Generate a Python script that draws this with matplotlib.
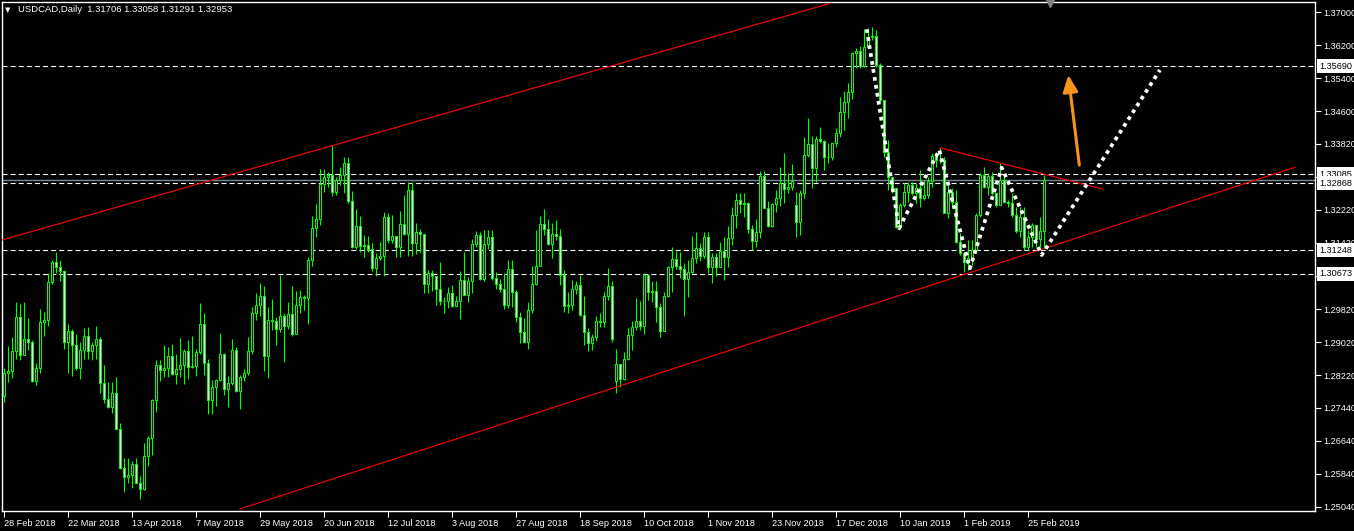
import matplotlib
matplotlib.use("Agg")
import matplotlib.pyplot as plt
import pandas as pd

plt.rcParams['font.family'] = ['Liberation Sans', 'DejaVu Sans']
FS = 6.6

# daily bars shown on the chart (MT4 skips 25 Dec and 1 Jan)
dates = pd.bdate_range("2018-02-28", "2019-03-01")
dates = dates[~dates.isin(pd.to_datetime(["2018-12-25", "2019-01-01"]))]

closes = [
    1.2827, 1.2833, 1.2880, 1.2962, 1.2872, 1.2909, 1.2903, 1.2809, 1.2840, 1.2950,
    1.2956, 1.3047, 1.3095, 1.3085, 1.3075, 1.2902, 1.2929, 1.2895, 1.2841, 1.2883,
    1.2918, 1.2880, 1.2895, 1.2909, 1.2804, 1.2766, 1.2746, 1.2779, 1.2693, 1.2599,
    1.2577, 1.2581, 1.2607, 1.2563, 1.2548, 1.2626, 1.2670, 1.2763, 1.2846, 1.2835,
    1.2839, 1.2869, 1.2826, 1.2838, 1.2846, 1.2881, 1.2843, 1.2844, 1.2878, 1.2945,
    1.2851, 1.2763, 1.2793, 1.2811, 1.2873, 1.2788, 1.2803, 1.2883, 1.2785, 1.2819,
    1.2827, 1.2881, 1.2972, 1.2991, 1.3013, 1.2870, 1.2955, 1.2953, 1.2933, 1.2965,
    1.2941, 1.2970, 1.2923, 1.2991, 1.3011, 1.3008, 1.3102, 1.3177, 1.3199, 1.3284,
    1.3302, 1.3307, 1.3266, 1.3294, 1.3305, 1.3334, 1.3244, 1.3131, 1.3183, 1.3135,
    1.3137, 1.3128, 1.3081, 1.3106, 1.3110, 1.3204, 1.3149, 1.3159, 1.3133, 1.3187,
    1.3164, 1.3270, 1.3143, 1.3169, 1.3164, 1.3044, 1.3069, 1.3062, 1.3031, 1.3002,
    1.3002, 1.3021, 1.2990, 1.3002, 1.3052, 1.3017, 1.3050, 1.3139, 1.3160, 1.3055,
    1.3139, 1.3156, 1.3058, 1.3042, 1.3030, 1.2993, 1.3078, 1.3024, 1.2964, 1.2928,
    1.2903, 1.2979, 1.3043, 1.3087, 1.3188, 1.3175, 1.3139, 1.3163, 1.3159, 1.3065,
    1.2990, 1.2991, 1.3030, 1.3040, 1.2969, 1.2927, 1.2900, 1.2914, 1.2953, 1.2952,
    1.3015, 1.3038, 1.2909, 1.2850, 1.2813, 1.2861, 1.2919, 1.2938, 1.2954, 1.2941,
    1.3065, 1.3024, 1.3027, 1.2987, 1.2930, 1.3014, 1.3083, 1.3103, 1.3086, 1.3079,
    1.3054, 1.3071, 1.3105, 1.3129, 1.3111, 1.3156, 1.3083, 1.3109, 1.3085, 1.3123,
    1.3108, 1.3153, 1.3210, 1.3246, 1.3235, 1.3238, 1.3175, 1.3146, 1.3168, 1.3304,
    1.3227, 1.3184, 1.3235, 1.3250, 1.3288, 1.3272, 1.3278, 1.3292, 1.3193, 1.3263,
    1.3354, 1.3380, 1.3322, 1.3392, 1.3388, 1.3349, 1.3350, 1.3383, 1.3407, 1.3459,
    1.3483, 1.3507, 1.3600, 1.3607, 1.3570, 1.3616, 1.3640, 1.3642, 1.3572, 1.3487,
    1.3362, 1.3302, 1.3274, 1.3181, 1.3234, 1.3266, 1.3282, 1.3263, 1.3274, 1.3250,
    1.3258, 1.3292, 1.3352, 1.3342, 1.3342, 1.3215, 1.3266, 1.3241, 1.3145, 1.3117,
    1.3097, 1.3106, 1.3125, 1.3210, 1.3306, 1.3278, 1.3304, 1.3262, 1.3234, 1.3294,
    1.3241, 1.3238, 1.3210, 1.3172, 1.3205, 1.3133, 1.3157, 1.3185, 1.3152, 1.3171,
    1.32953,
]

highs = [
    1.2839, 1.2893, 1.2914, 1.2999, 1.2994, 1.2999, 1.2960, 1.2907, 1.2851, 1.2982,
    1.2975, 1.3069, 1.3101, 1.3121, 1.3101, 1.3077, 1.2946, 1.2933, 1.2921, 1.2903,
    1.2936, 1.2938, 1.2902, 1.2941, 1.2914, 1.2847, 1.2807, 1.2805, 1.2819, 1.2708,
    1.2622, 1.2622, 1.2615, 1.2622, 1.2579, 1.2659, 1.2676, 1.2764, 1.2859, 1.2859,
    1.2895, 1.2890, 1.2898, 1.2873, 1.2912, 1.2886, 1.2907, 1.2916, 1.2886, 1.2996,
    1.2972, 1.2862, 1.2811, 1.2813, 1.2924, 1.2877, 1.2820, 1.2909, 1.2890, 1.2823,
    1.2837, 1.2915, 1.2988, 1.3020, 1.3045, 1.3038, 1.2988, 1.3006, 1.2962, 1.3065,
    1.2973, 1.2999, 1.3038, 1.3025, 1.3028, 1.3016, 1.3109, 1.3207, 1.3235, 1.3321,
    1.3321, 1.3313, 1.3379, 1.3302, 1.3326, 1.3350, 1.3350, 1.3267, 1.3225, 1.3207,
    1.3160, 1.3159, 1.3143, 1.3118, 1.3144, 1.3217, 1.3215, 1.3209, 1.3157, 1.3220,
    1.3258, 1.3290, 1.3289, 1.3189, 1.3175, 1.3156, 1.3077, 1.3077, 1.3051, 1.3096,
    1.3011, 1.3036, 1.3040, 1.3014, 1.3075, 1.3119, 1.3060, 1.3151, 1.3172, 1.3168,
    1.3173, 1.3173, 1.3173, 1.3073, 1.3055, 1.3069, 1.3102, 1.3102, 1.3028, 1.2976,
    1.2960, 1.2999, 1.3086, 1.3173, 1.3207, 1.3223, 1.3199, 1.3189, 1.3197, 1.3175,
    1.3077, 1.3023, 1.3052, 1.3049, 1.3065, 1.3014, 1.2936, 1.2922, 1.2965, 1.2972,
    1.3024, 1.3081, 1.3051, 1.2886, 1.2840, 1.2879, 1.2936, 1.2953, 1.3008, 1.3002,
    1.3069, 1.3067, 1.3050, 1.3050, 1.2996, 1.3024, 1.3086, 1.3132, 1.3123, 1.3121,
    1.3094, 1.3101, 1.3159, 1.3169, 1.3143, 1.3169, 1.3169, 1.3117, 1.3117, 1.3144,
    1.3156, 1.3183, 1.3230, 1.3262, 1.3262, 1.3262, 1.3242, 1.3185, 1.3199, 1.3316,
    1.3316, 1.3243, 1.3238, 1.3270, 1.3326, 1.3359, 1.3310, 1.3333, 1.3266, 1.3270,
    1.3399, 1.3443, 1.3400, 1.3400, 1.3423, 1.3391, 1.3383, 1.3384, 1.3419, 1.3494,
    1.3510, 1.3528, 1.3604, 1.3612, 1.3618, 1.3658, 1.3661, 1.3663, 1.3656, 1.3576,
    1.3487, 1.3391, 1.3302, 1.3274, 1.3239, 1.3286, 1.3290, 1.3290, 1.3286, 1.3318,
    1.3294, 1.3302, 1.3359, 1.3362, 1.3371, 1.3350, 1.3286, 1.3274, 1.3270, 1.3165,
    1.3121, 1.3149, 1.3149, 1.3214, 1.3310, 1.3326, 1.3310, 1.3314, 1.3262, 1.3334,
    1.3306, 1.3246, 1.3262, 1.3230, 1.3230, 1.3230, 1.3173, 1.3189, 1.3173, 1.3205,
    1.33058,
]

lows = [
    1.2758, 1.2807, 1.2816, 1.2862, 1.2859, 1.2871, 1.2883, 1.2807, 1.2799, 1.2827,
    1.2917, 1.2941, 1.3043, 1.3069, 1.3051, 1.2886, 1.2827, 1.2821, 1.2835, 1.2813,
    1.2862, 1.2862, 1.2858, 1.2861, 1.2779, 1.2756, 1.2742, 1.2730, 1.2693, 1.2595,
    1.2541, 1.2561, 1.2549, 1.2561, 1.2524, 1.2545, 1.2604, 1.2630, 1.2734, 1.2809,
    1.2817, 1.2819, 1.2823, 1.2802, 1.2818, 1.2802, 1.2814, 1.2839, 1.2820, 1.2874,
    1.2823, 1.2728, 1.2728, 1.2749, 1.2808, 1.2775, 1.2746, 1.2799, 1.2783, 1.2740,
    1.2809, 1.2823, 1.2874, 1.2956, 1.2965, 1.2833, 1.2816, 1.2931, 1.2896, 1.2928,
    1.2855, 1.2933, 1.2918, 1.2973, 1.2972, 1.2980, 1.2947, 1.3086, 1.3157, 1.3185,
    1.3266, 1.3278, 1.3256, 1.3258, 1.3282, 1.3262, 1.3239, 1.3129, 1.3128, 1.3121,
    1.3109, 1.3120, 1.3075, 1.3063, 1.3101, 1.3063, 1.3143, 1.3143, 1.3107, 1.3107,
    1.3160, 1.3111, 1.3110, 1.3115, 1.3121, 1.3021, 1.3021, 1.3026, 1.2992, 1.2992,
    1.2973, 1.2984, 1.2988, 1.2988, 1.2959, 1.3017, 1.2999, 1.3020, 1.3133, 1.3053,
    1.3051, 1.3128, 1.3052, 1.3031, 1.3023, 1.2983, 1.2986, 1.2988, 1.2951, 1.2900,
    1.2901, 1.2885, 1.2973, 1.3040, 1.3086, 1.3160, 1.3137, 1.3106, 1.3149, 1.3040,
    1.2976, 1.2973, 1.2980, 1.3019, 1.2966, 1.2895, 1.2882, 1.2883, 1.2906, 1.2940,
    1.2940, 1.3004, 1.2903, 1.2780, 1.2795, 1.2811, 1.2859, 1.2883, 1.2932, 1.2932,
    1.2922, 1.3004, 1.3000, 1.2952, 1.2914, 1.2930, 1.3012, 1.3024, 1.3078, 1.3057,
    1.2965, 1.3012, 1.3069, 1.3094, 1.3099, 1.3105, 1.3069, 1.3046, 1.3062, 1.3089,
    1.3052, 1.3085, 1.3137, 1.3177, 1.3214, 1.3205, 1.3165, 1.3125, 1.3133, 1.3153,
    1.3226, 1.3181, 1.3181, 1.3217, 1.3231, 1.3239, 1.3262, 1.3270, 1.3157, 1.3161,
    1.3250, 1.3350, 1.3274, 1.3290, 1.3384, 1.3318, 1.3336, 1.3342, 1.3375, 1.3399,
    1.3415, 1.3443, 1.3489, 1.3564, 1.3564, 1.3568, 1.3632, 1.3632, 1.3568, 1.3479,
    1.3350, 1.3270, 1.3262, 1.3177, 1.3197, 1.3230, 1.3242, 1.3258, 1.3238, 1.3230,
    1.3246, 1.3250, 1.3278, 1.3326, 1.3334, 1.3214, 1.3202, 1.3230, 1.3141, 1.3113,
    1.3071, 1.3077, 1.3089, 1.3117, 1.3205, 1.3274, 1.3258, 1.3258, 1.3230, 1.3246,
    1.3238, 1.3230, 1.3205, 1.3165, 1.3157, 1.3125, 1.3125, 1.3133, 1.3133, 1.3133,
    1.31291,
]

# opens follow the previous close, except the first bar and the weekend gaps
first_open = 1.2773
gap_opens = {153: 1.2809, 198: 1.3234, 260: 1.31706}

level_lines = [1.35690, 1.33085, 1.32868, 1.31248, 1.30673]
bid = 1.32953
price_ticks = [1.37000, 1.36200, 1.35400, 1.34600, 1.33820, 1.33020, 1.32220, 1.31420,
               1.30620, 1.29820, 1.29020, 1.28220, 1.27440, 1.26640, 1.25840, 1.25040]
hidden_ticks = [1.33020, 1.30620]  # covered by the level labels

# drawings (bar index, price)
upper_channel = ([-0.6, 206.8], [1.31485, 1.37212])
lower_channel = ([59.1, 322.9], [1.24992, 1.33248])
triangle_top = ([234.1, 274.8], [1.33721, 1.32723])
zigzag_x = [215.8, 223.9, 233.95, 241.6, 249.55, 259.55, 289.1]
zigzag_y = [1.36583, 1.31774, 1.33666, 1.30807, 1.33238, 1.31129, 1.35599]
arrow_from = (268.95, 1.33303)
arrow_to = (266.2, 1.35478)

opens = [first_open] + closes[:-1]
for k, v in gap_opens.items():
    opens[k] = v

fig = plt.figure(figsize=(13.54, 5.31), dpi=100, facecolor="black")
ax = fig.add_axes([2 / 1354, 20 / 531, 1313 / 1354, 509 / 531], facecolor="black")

lime = "#00FF00"
x = list(range(len(closes)))
ax.vlines(x, lows, highs, color=lime, lw=0.8, zorder=3)
bottoms = [min(o, c) for o, c in zip(opens, closes)]
heights = [max(abs(c - o), 0.00004) for o, c in zip(opens, closes)]
fills = ["black" if c >= o else "white" for o, c in zip(opens, closes)]
ax.bar(x, heights, bottom=bottoms, width=0.5, color=fills, edgecolor=lime,
       linewidth=0.75, zorder=4)

for lv in level_lines:
    ax.axhline(lv, color="white", lw=0.8, dashes=(4.5, 2.8), zorder=2)
    ax.text(1.0032, lv, "%.5f" % lv, transform=ax.get_yaxis_transform(),
            ha="left", va="center", fontsize=FS, color="black", zorder=10,
            clip_on=False, bbox=dict(boxstyle="square,pad=0.25", fc="white", ec="none"))
ax.axhline(bid, color="#778899", lw=1.0, zorder=2)

ax.plot(*upper_channel, color="red", lw=0.8, zorder=5)
ax.plot(*lower_channel, color="red", lw=0.8, zorder=5)
ax.plot(*triangle_top, color="red", lw=0.8, zorder=5)
ax.plot(zigzag_x, zigzag_y, color="white", lw=2.7, linestyle=(0, (1, 1.15)),
        dash_capstyle="butt", zorder=6)
ax.annotate("", xy=arrow_to, xytext=arrow_from,
            arrowprops=dict(arrowstyle="-|>,head_length=1.0,head_width=0.45",
                            color="#F7941D", lw=2.2, shrinkA=0, shrinkB=0), zorder=7)

ax.set_xlim(-0.375, 327.875)
ax.set_ylim(1.24943, 1.37242)

ax.yaxis.tick_right()
ax.set_yticks(price_ticks)
ax.set_yticklabels(["" if t in hidden_ticks else "%.5f" % t for t in price_ticks])
xt = list(range(0, len(closes), 16))
ax.set_xticks(xt)
ax.set_xticklabels([f"{dates[i].day} {dates[i]:%b %Y}" for i in xt])
for lbl in ax.get_xticklabels():
    lbl.set_ha("left")
ax.tick_params(colors="white", labelsize=FS, length=4, width=0.8, pad=2)
for s in ax.spines.values():
    s.set_color("white")
    s.set_linewidth(1)

# chart shift marker
ax.plot([261.6], [1.37242], marker="v", color="#808080", ms=7, clip_on=False, zorder=8)

fig.text(5 / 1354, 1 - 10 / 531, "\u25BC", color="white", fontsize=5,
         family="DejaVu Sans", va="center")
fig.text(18 / 1354, 1 - 10 / 531, "USDCAD,Daily  1.31706 1.33058 1.31291 1.32953",
         color="white", fontsize=FS + 0.2, va="center")

fig.savefig("out.png", dpi=100, facecolor="black")
